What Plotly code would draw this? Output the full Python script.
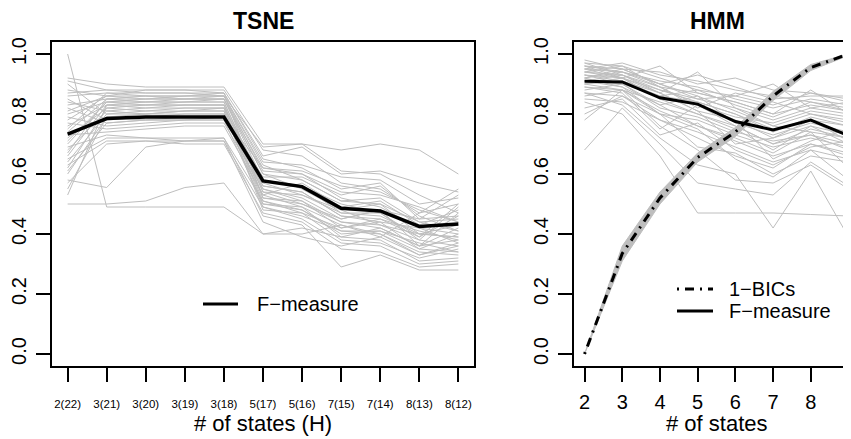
import plotly.graph_objects as go

# x categories / positions
tsne_labels = ["2(22)", "3(21)", "3(20)", "3(19)", "3(18)", "5(17)", "5(16)", "7(15)", "7(14)", "8(13)", "8(12)"]
hmm_states = [2, 3, 4, 5, 6, 7, 8, 9]

# TSNE: F-measure per run (grey) and the average (black)
tsne_runs = [
    [0.92, 0.90, 0.89, 0.89, 0.89, 0.70, 0.70, 0.61, 0.60, 0.53, 0.47],
    [0.88, 0.86, 0.88, 0.88, 0.88, 0.68, 0.66, 0.57, 0.55, 0.47, 0.50],
    [0.86, 0.87, 0.87, 0.87, 0.87, 0.65, 0.62, 0.55, 0.57, 0.45, 0.53],
    [0.83, 0.85, 0.86, 0.86, 0.86, 0.63, 0.58, 0.51, 0.52, 0.44, 0.45],
    [0.80, 0.84, 0.85, 0.86, 0.86, 0.61, 0.60, 0.52, 0.49, 0.42, 0.40],
    [0.78, 0.86, 0.85, 0.85, 0.85, 0.60, 0.55, 0.48, 0.50, 0.40, 0.43],
    [0.76, 0.83, 0.84, 0.85, 0.85, 0.58, 0.56, 0.50, 0.47, 0.39, 0.46],
    [0.74, 0.85, 0.84, 0.84, 0.84, 0.56, 0.54, 0.46, 0.45, 0.41, 0.38],
    [0.72, 0.82, 0.83, 0.84, 0.84, 0.55, 0.52, 0.45, 0.48, 0.36, 0.42],
    [0.70, 0.84, 0.83, 0.83, 0.83, 0.54, 0.50, 0.44, 0.43, 0.38, 0.36],
    [0.68, 0.81, 0.82, 0.83, 0.83, 0.52, 0.51, 0.42, 0.44, 0.35, 0.40],
    [0.66, 0.83, 0.82, 0.82, 0.82, 0.51, 0.48, 0.40, 0.41, 0.37, 0.34],
    [0.64, 0.80, 0.81, 0.82, 0.82, 0.50, 0.49, 0.43, 0.39, 0.33, 0.37],
    [0.62, 0.82, 0.81, 0.81, 0.81, 0.49, 0.46, 0.41, 0.40, 0.34, 0.33],
    [0.60, 0.79, 0.80, 0.81, 0.81, 0.48, 0.47, 0.38, 0.37, 0.32, 0.35],
    [0.90, 0.80, 0.80, 0.80, 0.80, 0.53, 0.57, 0.49, 0.51, 0.43, 0.48],
    [0.85, 0.78, 0.79, 0.80, 0.80, 0.59, 0.59, 0.53, 0.56, 0.46, 0.41],
    [0.82, 0.77, 0.78, 0.79, 0.79, 0.62, 0.61, 0.56, 0.54, 0.48, 0.44],
    [0.79, 0.76, 0.77, 0.78, 0.78, 0.57, 0.53, 0.47, 0.46, 0.40, 0.39],
    [0.77, 0.75, 0.76, 0.77, 0.77, 0.55, 0.51, 0.44, 0.42, 0.36, 0.38],
    [0.73, 0.74, 0.75, 0.76, 0.76, 0.53, 0.49, 0.39, 0.38, 0.31, 0.32],
    [0.69, 0.73, 0.72, 0.72, 0.72, 0.51, 0.47, 0.42, 0.45, 0.39, 0.50],
    [0.65, 0.72, 0.72, 0.71, 0.71, 0.49, 0.45, 0.37, 0.36, 0.30, 0.31],
    [0.63, 0.71, 0.71, 0.70, 0.70, 0.47, 0.44, 0.35, 0.34, 0.29, 0.30],
    [0.57, 0.70, 0.71, 0.71, 0.72, 0.46, 0.43, 0.29, 0.33, 0.28, 0.28],
    [1.00, 0.49, 0.49, 0.49, 0.49, 0.40, 0.40, 0.43, 0.40, 0.33, 0.36],
    [0.50, 0.50, 0.51, 0.555, 0.57, 0.40, 0.42, 0.39, 0.42, 0.36, 0.47],
    [0.58, 0.555, 0.69, 0.71, 0.71, 0.44, 0.39, 0.36, 0.39, 0.47, 0.55],
    [0.87, 0.88, 0.87, 0.87, 0.86, 0.69, 0.70, 0.68, 0.70, 0.68, 0.60],
    [0.75, 0.87, 0.86, 0.86, 0.87, 0.66, 0.69, 0.60, 0.61, 0.57, 0.54],
    [0.81, 0.86, 0.86, 0.85, 0.86, 0.64, 0.63, 0.59, 0.58, 0.50, 0.52],
    [0.67, 0.85, 0.85, 0.85, 0.85, 0.62, 0.60, 0.54, 0.53, 0.49, 0.44],
    [0.71, 0.84, 0.84, 0.84, 0.85, 0.60, 0.58, 0.51, 0.50, 0.44, 0.41],
    [0.84, 0.81, 0.80, 0.81, 0.82, 0.58, 0.56, 0.47, 0.47, 0.38, 0.49],
    [0.55, 0.79, 0.78, 0.78, 0.79, 0.56, 0.54, 0.46, 0.44, 0.42, 0.37],
    [0.91, 0.88, 0.88, 0.88, 0.87, 0.52, 0.50, 0.45, 0.48, 0.45, 0.46],
    [0.61, 0.77, 0.78, 0.78, 0.78, 0.50, 0.48, 0.41, 0.41, 0.35, 0.34],
    [0.53, 0.83, 0.83, 0.83, 0.83, 0.54, 0.53, 0.48, 0.43, 0.40, 0.39],
]
tsne_fmeasure = [0.733, 0.785, 0.79, 0.79, 0.79, 0.577, 0.558, 0.486, 0.477, 0.425, 0.433]

# HMM: F-measure per run (grey), average (black), 1-BICs with its spread
hmm_runs = [
    [0.97, 0.96, 0.92, 0.88, 0.86, 0.83, 0.87, 0.84],
    [0.96, 0.95, 0.90, 0.93, 0.89, 0.85, 0.86, 0.86],
    [0.95, 0.97, 0.93, 0.91, 0.88, 0.86, 0.84, 0.82],
    [0.94, 0.93, 0.89, 0.87, 0.84, 0.80, 0.83, 0.81],
    [0.98, 0.95, 0.94, 0.90, 0.92, 0.88, 0.87, 0.85],
    [0.93, 0.92, 0.88, 0.85, 0.82, 0.78, 0.82, 0.80],
    [0.92, 0.94, 0.90, 0.86, 0.81, 0.76, 0.80, 0.77],
    [0.91, 0.90, 0.86, 0.84, 0.80, 0.74, 0.79, 0.76],
    [0.90, 0.91, 0.87, 0.81, 0.78, 0.72, 0.76, 0.73],
    [0.89, 0.88, 0.84, 0.80, 0.76, 0.70, 0.75, 0.72],
    [0.96, 0.92, 0.85, 0.83, 0.79, 0.77, 0.81, 0.79],
    [0.95, 0.94, 0.91, 0.89, 0.85, 0.82, 0.85, 0.83],
    [0.94, 0.96, 0.89, 0.82, 0.87, 0.84, 0.80, 0.78],
    [0.93, 0.91, 0.86, 0.88, 0.83, 0.79, 0.84, 0.81],
    [0.92, 0.89, 0.83, 0.86, 0.77, 0.73, 0.77, 0.74],
    [0.97, 0.93, 0.88, 0.84, 0.80, 0.75, 0.78, 0.71],
    [0.88, 0.90, 0.82, 0.79, 0.74, 0.71, 0.73, 0.70],
    [0.87, 0.86, 0.80, 0.78, 0.73, 0.69, 0.72, 0.69],
    [0.91, 0.93, 0.87, 0.94, 0.82, 0.76, 0.74, 0.72],
    [0.90, 0.92, 0.96, 0.87, 0.84, 0.80, 0.88, 0.80],
    [0.86, 0.88, 0.81, 0.76, 0.71, 0.66, 0.70, 0.67],
    [0.85, 0.84, 0.78, 0.74, 0.69, 0.64, 0.68, 0.65],
    [0.95, 0.92, 0.85, 0.80, 0.75, 0.68, 0.76, 0.70],
    [0.93, 0.90, 0.83, 0.76, 0.72, 0.67, 0.74, 0.62],
    [0.96, 0.94, 0.89, 0.83, 0.78, 0.65, 0.71, 0.75],
    [0.92, 0.95, 0.90, 0.85, 0.86, 0.90, 0.82, 0.84],
    [0.94, 0.92, 0.87, 0.81, 0.70, 0.72, 0.78, 0.76],
    [0.89, 0.87, 0.75, 0.83, 0.76, 0.70, 0.73, 0.68],
    [0.80, 0.86, 0.78, 0.72, 0.66, 0.62, 0.70, 0.66],
    [0.78, 0.88, 0.80, 0.69, 0.67, 0.60, 0.66, 0.64],
    [0.82, 0.85, 0.73, 0.77, 0.68, 0.63, 0.69, 0.71],
    [0.68, 0.82, 0.70, 0.57, 0.55, 0.53, 0.64, 0.56],
    [0.84, 0.80, 0.66, 0.47, 0.47, 0.47, 0.465, 0.46],
    [0.87, 0.83, 0.72, 0.63, 0.60, 0.42, 0.61, 0.39],
    [0.90, 0.88, 0.76, 0.68, 0.58, 0.57, 0.63, 0.55],
    [0.91, 0.89, 0.80, 0.75, 0.65, 0.59, 0.68, 0.58],
]
hmm_fmeasure = [0.909, 0.907, 0.854, 0.833, 0.775, 0.747, 0.78, 0.728]
hmm_bics = [0.0, 0.335, 0.52, 0.655, 0.74, 0.86, 0.955, 1.0]
hmm_bics_lo = [0.0, 0.31, 0.50, 0.64, 0.725, 0.845, 0.945, 0.995]
hmm_bics_hi = [0.0, 0.36, 0.54, 0.67, 0.755, 0.875, 0.965, 1.0]

GREY = "#bebebe"
FONT = "Liberation Sans, Arial, Helvetica, sans-serif"
# the page body has an 8px margin, so the figure sits at (8, 8) in the 851x439 window
OFF = 8
W, H = 851 - OFF, 439 - OFF


def px(x):
    return (x - OFF) / W


def py(y):
    return 1 - (y - OFF) / H


fig = go.Figure()

# ---- left panel: TSNE
for run in tsne_runs:
    fig.add_trace(go.Scatter(x=tsne_labels, y=run, mode="lines", line=dict(color=GREY, width=1),
                             xaxis="x", yaxis="y", showlegend=False, hoverinfo="skip"))
fig.add_trace(go.Scatter(x=tsne_labels, y=tsne_fmeasure, mode="lines", line=dict(color="black", width=3.5),
                         xaxis="x", yaxis="y", showlegend=False, name="F-measure"))

# ---- right panel: HMM
for run in hmm_runs:
    fig.add_trace(go.Scatter(x=hmm_states, y=run, mode="lines", line=dict(color=GREY, width=1),
                             xaxis="x2", yaxis="y2", showlegend=False, hoverinfo="skip"))
fig.add_trace(go.Scatter(x=hmm_states, y=hmm_bics_lo, mode="lines", line=dict(color=GREY, width=1),
                         xaxis="x2", yaxis="y2", showlegend=False, hoverinfo="skip"))
fig.add_trace(go.Scatter(x=hmm_states, y=hmm_bics_hi, mode="lines", line=dict(color=GREY, width=1),
                         fill="tonexty", fillcolor=GREY, xaxis="x2", yaxis="y2", showlegend=False,
                         hoverinfo="skip"))
fig.add_trace(go.Scatter(x=hmm_states, y=hmm_bics, mode="lines",
                         line=dict(color="black", width=3, dash="2px,6px,9px,6px"),
                         xaxis="x2", yaxis="y2", showlegend=False, name="1-BICs"))
fig.add_trace(go.Scatter(x=hmm_states, y=hmm_fmeasure, mode="lines", line=dict(color="black", width=3),
                         xaxis="x2", yaxis="y2", showlegend=False, name="F-measure"))

axis_common = dict(showline=True, linecolor="black", linewidth=1.5, ticks="outside", ticklen=14,
                   tickwidth=1.5, tickcolor="black", showgrid=False, zeroline=False,
                   tickfont=dict(family=FONT, size=20, color="black"))
yticks = [0.0, 0.2, 0.4, 0.6, 0.8, 1.0]

fig.update_layout(
    width=W, height=H, template="none",
    paper_bgcolor="white", plot_bgcolor="white",
    margin=dict(l=0, r=0, t=0, b=0),
    showlegend=False,
    xaxis=dict(axis_common, domain=[px(52), px(474)], range=[-0.4, 10.4], mirror=True,
               tickfont=dict(family=FONT, size=11.5, color="black"), ticklabelstandoff=12),
    yaxis=dict(axis_common, domain=[py(366), py(42)], range=[-0.04, 1.04], mirror=True,
               tickvals=yticks, tickformat=".1f", tickangle=-90, ticklabelstandoff=2),
    xaxis2=dict(axis_common, domain=[px(574), 1.0], range=[1.72, 9.067], mirror=True,
                tickvals=hmm_states, ticklabelstandoff=3, anchor="y2", ticklabeloverflow="allow"),
    yaxis2=dict(axis_common, domain=[py(366), py(42)], range=[-0.04, 1.04], mirror=False,
                tickvals=yticks, tickformat=".1f", tickangle=-90, ticklabelstandoff=2, anchor="x2"),
)

ann = []
for text, x, y in [("TSNE", 263, 21), ("HMM", 717, 21)]:
    ann.append(dict(text="<b>%s</b>" % text, x=px(x), y=py(y), xref="paper", yref="paper",
                    showarrow=False, xanchor="center", yanchor="middle",
                    font=dict(family=FONT, size=23, color="black")))
for text, x, y in [("# of states (H)", 263, 423), ("# of states", 717, 423)]:
    ann.append(dict(text=text, x=px(x), y=py(y), xref="paper", yref="paper",
                    showarrow=False, xanchor="center", yanchor="middle", borderpad=0,
                    font=dict(family=FONT, size=22, color="black")))
# legends
for text, x, y in [("F\u2212measure", 255, 304), ("1\u2212BICs", 727, 289), ("F\u2212measure", 727, 311)]:
    ann.append(dict(text=text, x=px(x), y=py(y), xref="paper", yref="paper",
                    showarrow=False, xanchor="left", yanchor="middle",
                    font=dict(family=FONT, size=20, color="black")))
fig.update_layout(annotations=ann)

fig.add_shape(type="line", xref="paper", yref="paper", x0=px(203), x1=px(238), y0=py(304), y1=py(304),
              line=dict(color="black", width=3))
fig.add_shape(type="line", xref="paper", yref="paper", x0=px(677), x1=px(713), y0=py(289), y1=py(289),
              line=dict(color="black", width=3, dash="2px,6px,9px,6px"))
fig.add_shape(type="line", xref="paper", yref="paper", x0=px(677), x1=px(713), y0=py(311), y1=py(311),
              line=dict(color="black", width=3))

fig.write_html("out.html")
